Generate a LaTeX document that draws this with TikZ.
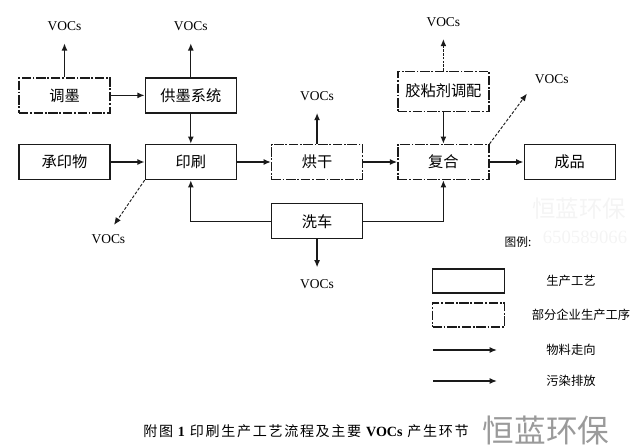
\documentclass[tikz,border=0pt]{standalone}
\usepackage{fontspec}
\setmainfont{Liberation Serif}
\newfontfamily\cjk{Noto Sans CJK SC}
\newfontfamily\cjkwide[LetterSpace=12]{Noto Sans CJK SC}
\usepackage{tikz}
\usetikzlibrary{arrows.meta,positioning,calc}
\definecolor{lineblack}{HTML}{1A1A1A}
\definecolor{wmgray}{HTML}{9A9A9A}
\definecolor{wmlight}{HTML}{F4F4F4}
\tikzstyle{proc} = [rectangle, draw=lineblack, line width=1.1pt, minimum width=2.73cm,
    minimum height=1.05cm, font=\cjk\fontsize{13}{15}\selectfont, inner sep=1pt]
\tikzstyle{optproc} = [proc, dash pattern=on 8pt off 1.5pt on 1.5pt off 1.5pt]
\tikzstyle{flow} = [-{Latex[length=2.2mm,width=1.8mm]}, line width=1.2pt, lineblack]
\tikzstyle{pollute} = [flow, shorten >=0.33cm]
\tikzstyle{voc} = [font=\fontsize{11.5}{12}\selectfont, inner sep=1pt]
\tikzstyle{lgbox} = [rectangle, draw=lineblack, line width=1.1pt, minimum width=2.16cm, minimum height=0.72cm]
\tikzstyle{lgtext} = [font=\cjk\fontsize{10.5}{12}\selectfont]

\begin{document}
\begin{tikzpicture}[x=0.03cm, y=-0.03cm, node distance=1.02cm]
\useasboundingbox (0,0) rectangle (640,448);
\node[proc] (chengyin) at (64.5,162) {承印物};
\node[proc, right=of chengyin] (yinshua) {印刷};
\node[optproc, right=of yinshua] (honggan) {烘干};
\node[optproc, right=of honggan] (fuhe) {复合};
\node[proc, right=of fuhe] (chengpin) {成品};
\node[optproc, above=0.91cm of chengyin] (tiaomo) {调墨};
\node[proc, above=0.91cm of yinshua] (gongmo) {供墨系统};
\node[optproc, above=0.96cm of fuhe, minimum height=1.2cm] (jiaonian) {胶粘剂调配};
\node[proc, below=0.69cm of honggan] (xiche) {洗车};

\node[voc, above=1.35cm of tiaomo] (v1) {VOCs};
\node[voc, above=1.35cm of gongmo] (v2) {VOCs};
\node[voc, above=1.26cm of honggan] (v3) {VOCs};
\node[voc, above=1.28cm of jiaonian] (v4) {VOCs};
\node[voc, below=1.17cm of xiche] (v5) {VOCs};
\node[voc, above right=1.77cm and 1.32cm of fuhe.north east] (v6) {VOCs};
\node[voc, below left=1.59cm and 0.54cm of yinshua.south west] (v7) {VOCs};

\draw[flow] (tiaomo) -- (gongmo);
\draw[flow] (gongmo) -- (yinshua);
\draw[flow] (chengyin) -- (yinshua);
\draw[flow] (yinshua) -- (honggan);
\draw[flow] (honggan) -- (fuhe);
\draw[flow] (fuhe) -- (chengpin);
\draw[flow] (jiaonian) -- (fuhe);
\draw[flow] (xiche) -| (yinshua);
\draw[flow] (xiche) -| (fuhe);

\draw[pollute] (tiaomo) -- (v1);
\draw[pollute] (gongmo) -- (v2);
\draw[pollute] (honggan) -- (v3);
\draw[pollute, dash pattern=on 2pt off 1.2pt] (jiaonian) -- (v4);
\draw[pollute] (xiche) -- (v5);
\draw[pollute, line width=0.8pt, dash pattern=on 2.5pt off 1.5pt] (fuhe.north east) -- (v6.south west);
\draw[pollute, line width=0.8pt, dash pattern=on 2.5pt off 1.5pt, shorten >=0.3cm] (yinshua.south west) -- (v7.north);

\node[text=wmlight, font=\cjk\fontsize{20}{20}\selectfont] (wm1) at (579,209) {恒蓝环保};
\node[text=wmlight, font=\fontsize{16}{16}\selectfont] (wm2) at (585,237) {650589066};
\node[font=\cjk\fontsize{10}{12}\selectfont] (tuli) at (518,242) {图例:};
\node[lgbox] (lgproc) at (468.5,281) {};
\node[lgbox, dash pattern=on 8pt off 1.5pt on 1.5pt off 1.5pt] (lgopt) at (468.5,315) {};
\coordinate (lgf1) at (433,350);
\coordinate (lgf2) at (497,350);
\coordinate (lgp1) at (433,381);
\coordinate (lgp2) at (497,381);
\draw[flow] (lgf1) -- (lgf2);
\draw[flow] (lgp1) -- (lgp2);
\node[lgtext] (lgt1) at (571,281) {生产工艺};
\node[lgtext] (lgt2) at (581,315) {部分企业生产工序};
\node[lgtext] (lgt3) at (571,350) {物料走向};
\node[lgtext] (lgt4) at (571,381) {污染排放};

\node[font=\cjkwide\fontsize{12}{13}\selectfont] (caption) at (306,431) {附图 {\rmfamily\bfseries 1} 印刷生产工艺流程及主要 {\rmfamily\bfseries VOCs} 产生环节};
\node[text=wmgray, font=\cjk\fontsize{27}{27}\selectfont] (wm3) at (546,430) {恒蓝环保};
\end{tikzpicture}
\end{document}
